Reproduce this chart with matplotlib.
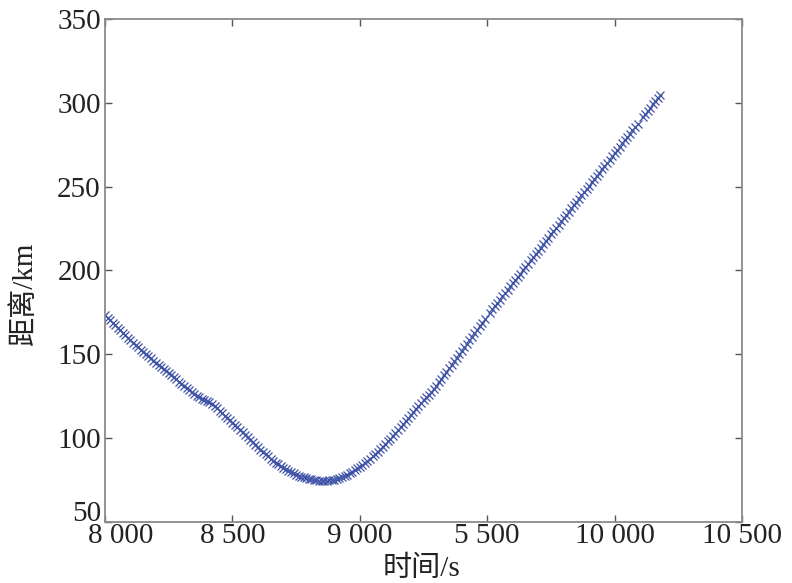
import numpy as np
import matplotlib
matplotlib.use('Agg')
import matplotlib.pyplot as plt
import matplotlib.transforms as mtransforms

# sample times (s), one every 10 s
time_s = np.arange(8000, 10181, 10)

# distance (km), one value per sample
distance_km = [
    173.5, 171.9, 170.4, 168.9, 167.4, 165.9, 164.4, 162.9, 161.4, 159.9,   # 8000
    158.4, 157.0, 155.6, 154.2, 152.8, 151.5, 150.2, 148.9, 147.6, 146.3,   # 8100
    145.0, 143.7, 142.5, 141.2, 140.0, 138.7, 137.5, 136.2, 135.0, 133.7,   # 8200
    132.5, 131.3, 130.0, 128.8, 127.6, 126.4, 125.3, 124.3, 123.5, 122.8,   # 8300
    122.2, 121.5, 120.5, 119.2, 117.8, 116.3, 114.9, 113.5, 112.1, 110.7,   # 8400
    109.3, 107.9, 106.4, 105.0, 103.5, 102.0, 100.5, 99.0, 97.5, 96.0,      # 8500
    94.6, 93.2, 91.8, 90.4, 89.1, 87.8, 86.6, 85.4, 84.3, 83.3,             # 8600
    82.3, 81.4, 80.5, 79.7, 79.0, 78.3, 77.7, 77.1, 76.6, 76.1,             # 8700
    75.7, 75.4, 75.1, 74.9, 74.7, 74.6, 74.6, 74.7, 74.8, 75.0,             # 8800
    75.3, 75.7, 76.2, 76.8, 77.5, 78.3, 79.2, 80.1, 81.0, 82.0,             # 8900
    83.0, 84.1, 85.3, 86.5, 87.8, 89.1, 90.5, 91.9, 93.4, 94.9,             # 9000
    96.5, 98.1, 99.8, 101.5, 103.2, 104.9, 106.6, 108.4, 110.2, 112.0,      # 9100
    113.8, 115.5, 117.3, 119.0, 120.8, 122.5, 124.3, 126.0, 127.8, 129.6,   # 9200
    131.4, 133.4, 135.5, 137.6, 139.7, 141.8, 143.9, 146.0, 148.1, 150.1,   # 9300
    152.2, 154.3, 156.4, 158.5, 160.5, 162.6, 164.7, 166.8, 168.8, 170.9,   # 9400
    np.nan, 174.9, 176.9, 178.8, 180.8, 182.7, 184.6, 186.6, 188.5, 190.5, # 9500
    192.4, 194.3, 196.3, 198.2, 200.2, 202.1, 204.0, 206.0, 207.9, 209.9,   # 9600
    211.8, 213.7, 215.7, 217.6, 219.6, 221.5, 223.4, 225.4, 227.3, 229.3,   # 9700
    231.2, 233.1, 235.1, 237.0, 239.0, 240.9, 242.8, 244.8, 246.7, 248.7,   # 9800
    250.6, 252.5, 254.5, 256.4, 258.4, 260.3, 262.2, 264.2, 266.1, 268.1,   # 9900
    270.0, 271.9, 273.9, 275.8, 277.8, 279.7, 281.6, 283.6, 285.5, 287.5,   # 10000
    np.nan, 291.3, 293.3, 295.2, 297.2, 299.1, 301.0, 303.0, 304.9,         # 10100
]

x_ticks = [8000, 8500, 9000, 9500, 10000, 10500]
x_tick_labels = ['8 000', '8 500', '9 000', '5 500', '10 000', '10 500']
y_ticks = [50, 100, 150, 200, 250, 300, 350]

num_font = 'Liberation Serif'
label_fonts = ['Liberation Serif', 'Noto Sans CJK SC']

fig = plt.figure(figsize=(7.92, 5.83), dpi=100)
ax = fig.add_axes([105 / 792, 1 - 522 / 583, 637 / 792, 503 / 583])

ax.plot(time_s, distance_km, linestyle='none', marker='x', markersize=5.5,
        markeredgewidth=0.9, color='#3d51a6')

ax.set_xlim(8000, 10500)
ax.set_ylim(50, 350)
ax.set_xticks(x_ticks)
ax.set_xticklabels(x_tick_labels)
ax.set_yticks(y_ticks)

for side in ['left', 'right', 'top', 'bottom']:
    ax.spines[side].set_color('#8a8a8a')
    ax.spines[side].set_linewidth(1.3)

ax.tick_params(direction='in', length=5, width=1, color='#555555',
               top=True, right=True, labelsize=21, labelcolor='#222222')
ax.tick_params(axis='x', pad=1)
ax.tick_params(axis='y', pad=3)
for lbl in ax.get_xticklabels() + ax.get_yticklabels():
    lbl.set_fontfamily(num_font)

# first labels are nudged apart in the original so "50" and "8 000" don't collide
shift_x = mtransforms.ScaledTranslation(16 / 100, 0, fig.dpi_scale_trans)
ax.get_xticklabels()[0].set_transform(ax.get_xticklabels()[0].get_transform() + shift_x)
shift_y = mtransforms.ScaledTranslation(0, 11 / 100, fig.dpi_scale_trans)
ax.get_yticklabels()[0].set_transform(ax.get_yticklabels()[0].get_transform() + shift_y)

ax.set_xlabel('时间/s', fontsize=21, family=label_fonts, color='#222222')
ax.set_ylabel('距离/km', fontsize=21, family=label_fonts, color='#222222')
ax.xaxis.set_label_coords(0.497, -0.066)
ax.yaxis.set_label_coords(-0.105, 0.455)

fig.savefig('out.png', dpi=100)
